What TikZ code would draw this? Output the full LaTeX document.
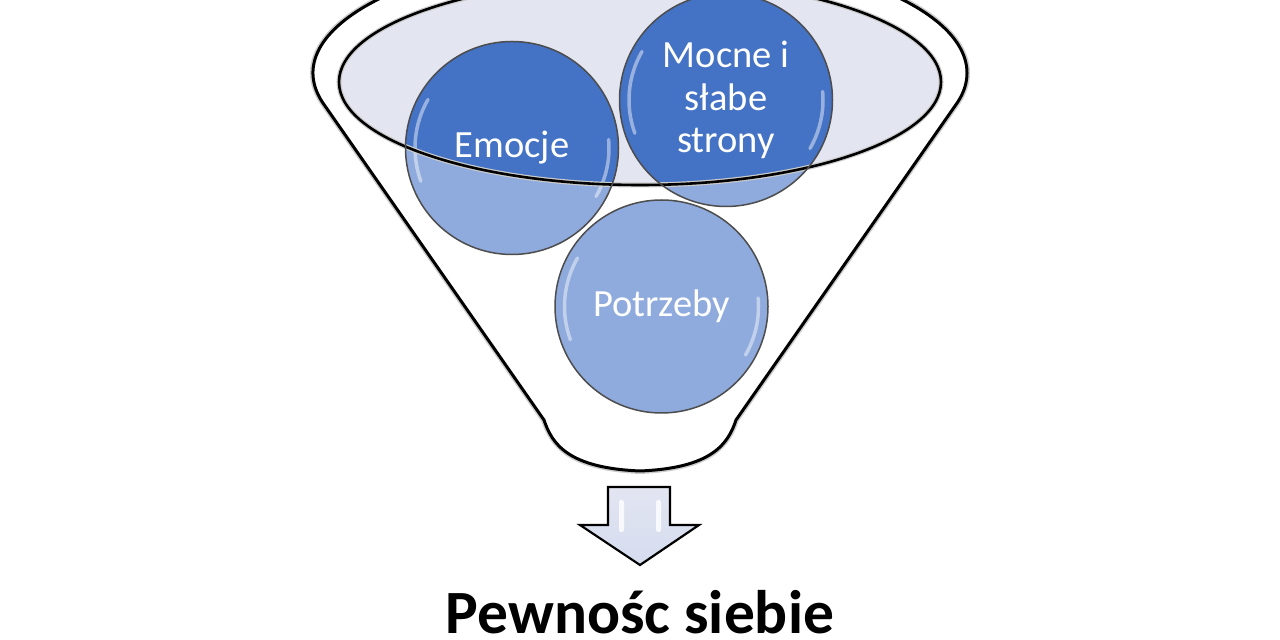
\documentclass[tikz,border=0pt]{standalone}
\usepackage{fontspec}
\setmainfont{Carlito}
\definecolor{darkblue}{HTML}{4472C4}
\definecolor{lightblue}{HTML}{8FAADC}
\definecolor{lav}{HTML}{E3E5F1}
\definecolor{ringgray}{HTML}{4D4D4D}
\tikzset{
  funnelline/.style={line width=3, draw=black, line join=round},
  ball/.style={circle, draw=ringgray, line width=1.5, minimum size=213, inner sep=0pt,
    text=white, font=\fontsize{38.5}{42.5}\selectfont, align=center},
  gloss/.style={white, opacity=0.45, line width=3.5, line cap=round},
  stripe/.style={fill=white, opacity=0.8, rounded corners=2}
}
\begin{document}
\begin{tikzpicture}[x=1pt,y=1pt]
\useasboundingbox (0,0) rectangle (1280,640);
\clip (0,0) rectangle (1280,640);
\coordinate (emoC) at (512,492);
\coordinate (mocC) at (726,540);
\coordinate (potC) at (661.5,333.5);
\coordinate (ellC) at (640,558);
% funnel body
\draw[line width=6, gray!40] (322.2,538.1) arc[start angle=193.6, end angle=-13.6, x radius=327, y radius=123]
  -- (736,220) .. controls (728,196) and (712,172) .. (640,169) .. controls (568,172) and (552,196) .. (544,220) -- cycle;
\filldraw[funnelline, fill=white] (322.2,538.1) arc[start angle=193.6, end angle=-13.6, x radius=327, y radius=123]
  -- (736,220) .. controls (728,196) and (712,172) .. (640,169) .. controls (568,172) and (552,196) .. (544,220) -- cycle;
% inner ellipse fill
\fill[lav] (ellC) ellipse[x radius=301, y radius=103];
% circles light
\fill[lightblue] (emoC) circle[radius=106.5];
\fill[lightblue] (mocC) circle[radius=106.5];
\fill[lightblue] (potC) circle[radius=106.5];
\begin{scope}
  \clip (ellC) ellipse[x radius=301, y radius=103];
  \fill[darkblue] (emoC) circle[radius=106.5];
  \fill[darkblue] (mocC) circle[radius=106.5];
\end{scope}
% gloss
\foreach \c in {emoC,mocC,potC}{
  \draw[gloss] ([shift={(150:97)}]\c) arc[start angle=150, end angle=200, radius=97];
  \draw[gloss] ([shift={(-30:97)}]\c) arc[start angle=-30, end angle=5, radius=97];
}
% inner ellipse outline
\draw[line width=5, gray!40] (ellC) ellipse[x radius=301, y radius=103];
\draw[line width=2.6] (ellC) ellipse[x radius=301, y radius=103];
% circle nodes
\node[ball] (emo) at (emoC) {Emocje};
\node[ball] (moc) at (mocC) {Mocne i\\słabe\\strony};
\node[ball] (pot) at (potC) {Potrzeby};
% arrow
\filldraw[line width=2.2, draw=black, line join=miter, top color=lav, bottom color=lav!60!lightblue!70]
  (608,153) -- (670,153) -- (670,115) -- (699,115) -- (640,75) -- (580,115) -- (608,115) -- cycle;
\fill[stripe] (619,108) rectangle (624,140);
\fill[stripe] (656,108) rectangle (661,140);
% title
\node[font=\bfseries\fontsize{61.5}{72}\selectfont, anchor=base, inner sep=0pt] (title) at (640,6) {Pewnośc siebie};
\end{tikzpicture}
\end{document}
